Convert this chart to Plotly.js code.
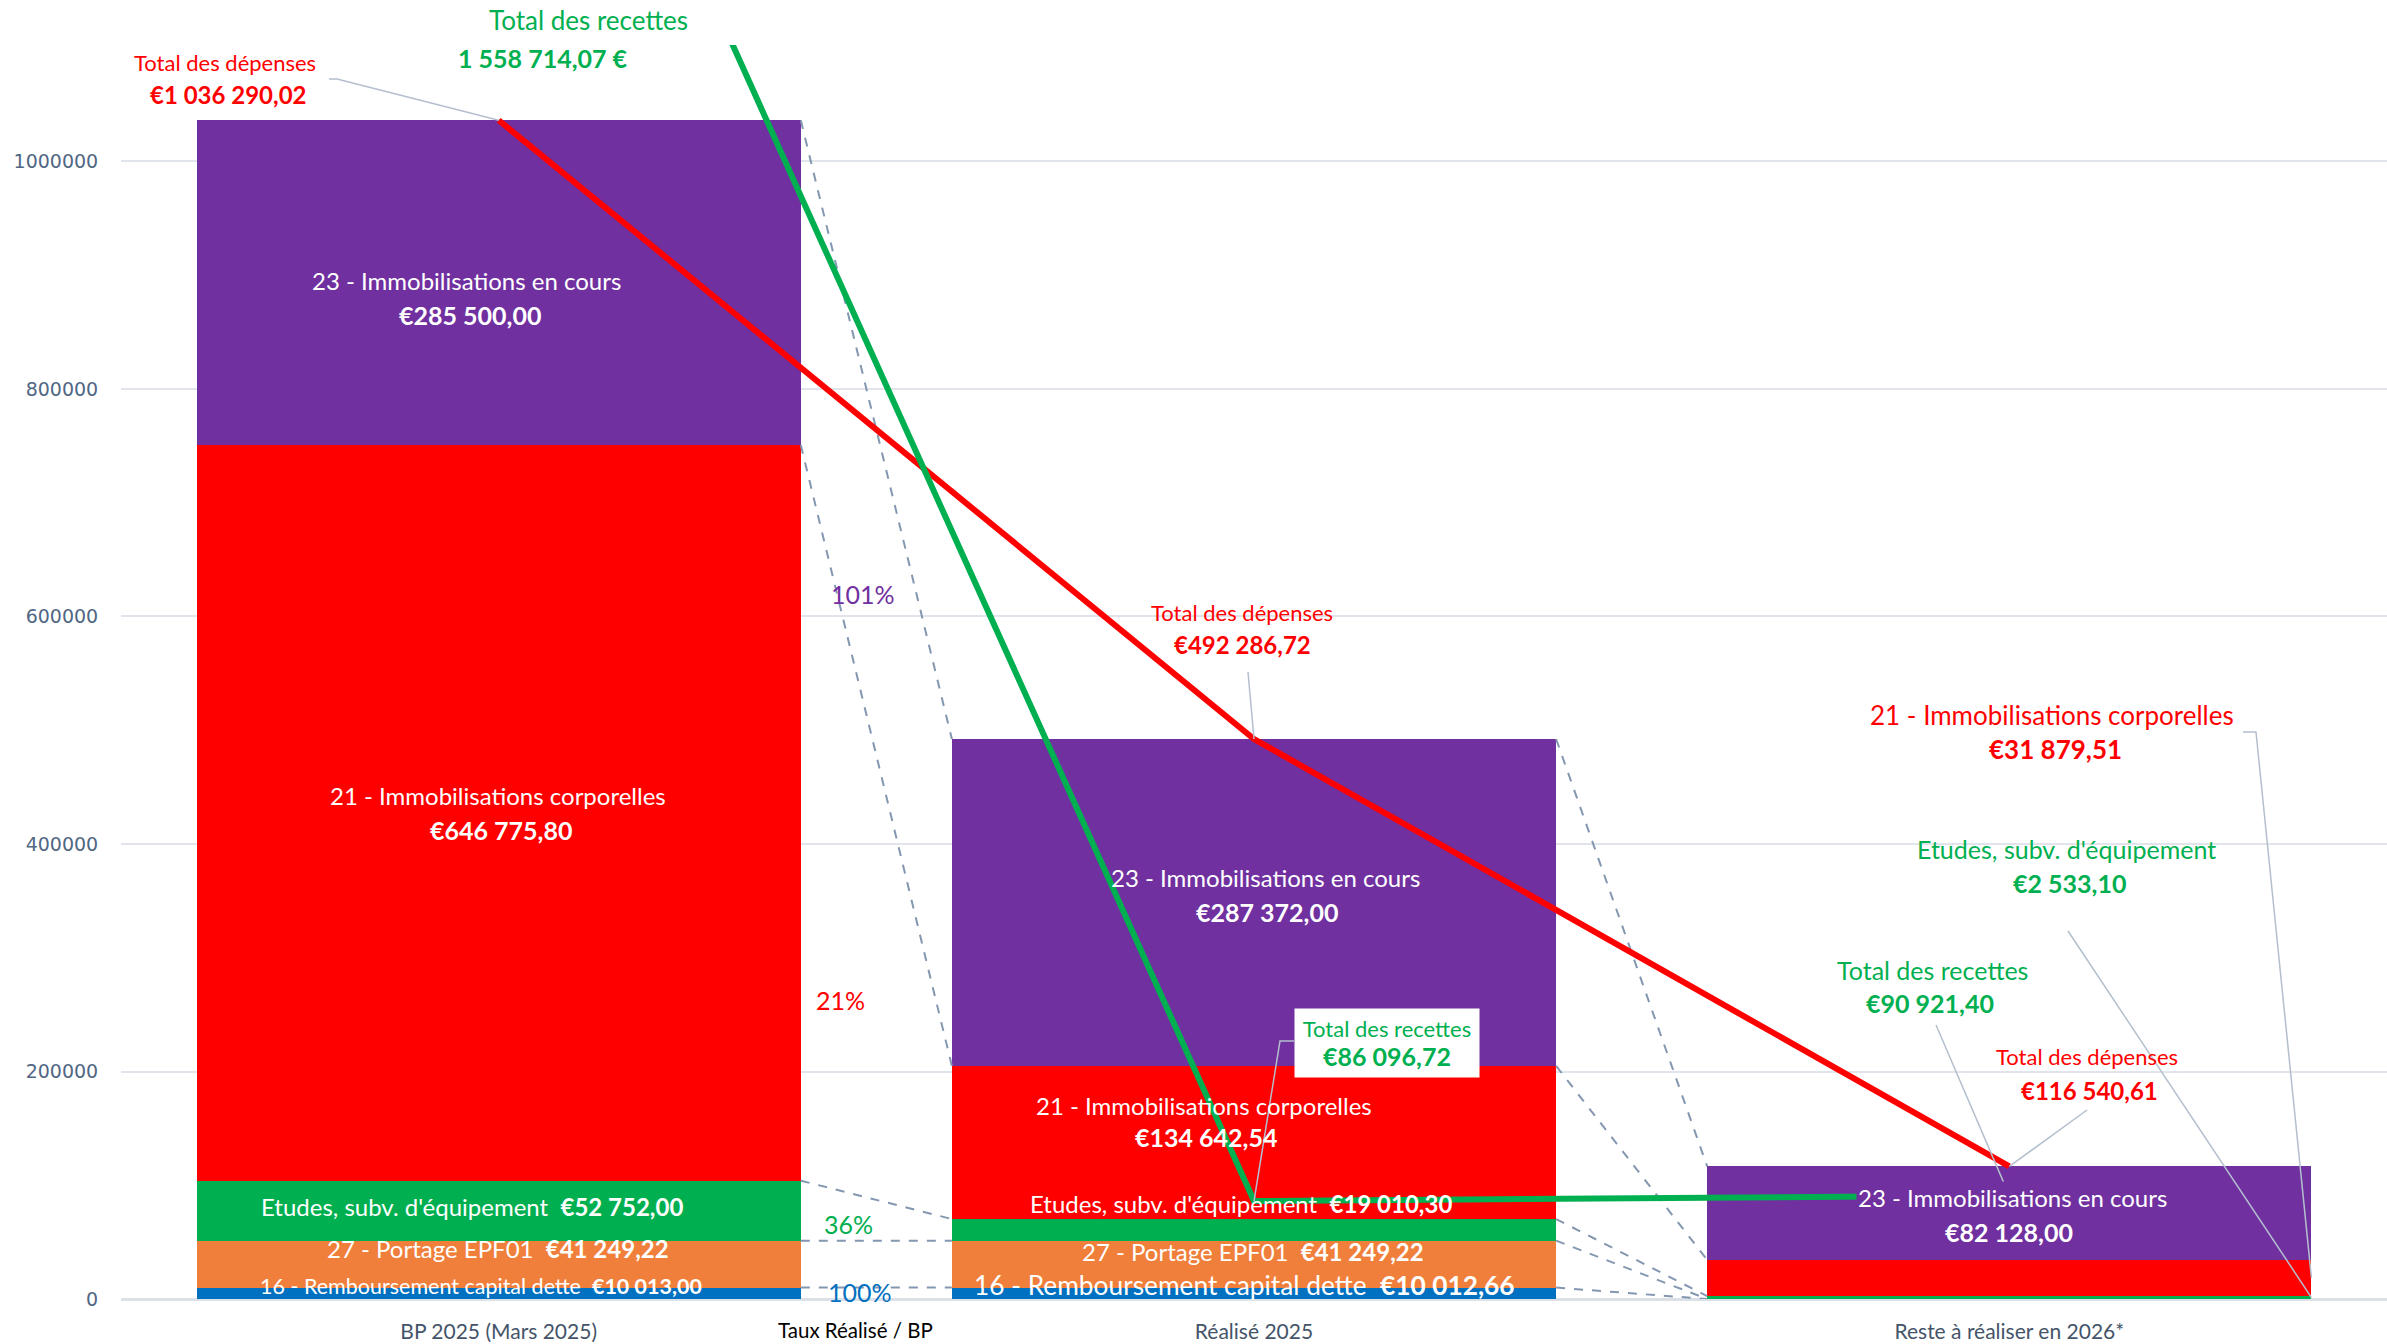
<!DOCTYPE html>
<html><head><meta charset="utf-8">
<script src="https://cdn.plot.ly/plotly-3.0.1.min.js"></script>
<style>html,body{margin:0;padding:0;background:#fff}#chart{width:2387px;height:1344px}</style>
</head><body><div id="chart"></div>
<script>
// ---------- DATA ----------
const categories = ["BP 2025 (Mars 2025)", "Réalisé 2025", "Reste à réaliser en 2026*"];
const seriesNames = ["16 - Remboursement capital dette", "27 - Portage EPF01", "Etudes, subv. d'équipement", "21 - Immobilisations corporelles", "23 - Immobilisations en cours"];
const rembCapital = [10013.00, 10012.66, 0];
const portageEPF = [41249.22, 41249.22, 0];
const etudesSubv = [52752.00, 19010.30, 2533.10];
const immoCorp = [646775.80, 134642.54, 31879.51];
const immoEnCours = [285500.00, 287372.00, 82128.00];
const totalDepenses = [1036290.02, 492286.72, 116540.61];
const totalRecettes = [1558714.07, 86096.72, 90921.40];
const yTicks = [0, 200000, 400000, 600000, 800000, 1000000];

// ---------- STYLE ----------
const seriesColors = ["#0070C0", "#F07F3C", "#00B050", "#FF0000", "#7030A0"];
const RED = "#FF0000", GREEN = "#00B050", PURPLE = "#7030A0", BLUE = "#0070C0";
const FONT = "Lato";
const W = 2387, H = 1344, ML = 121, MB = 45, MT = 45, YMAX = 1102400;
const PB = H - MB, PH = PB - MT, PW = W - ML;
const X = px => -0.5 + (px - ML) / PW * 3;
const Y = py => (PB - py) / PH * YMAX;
const YP = py => (PB - py) / PH;

function fmt(v){ const p = v.toFixed(2).split('.'); return p[0].replace(/\B(?=(\d{3})+(?!\d))/g,' ') + ',' + p[1]; }
const eur = v => '€' + fmt(v);

const series = [rembCapital, portageEPF, etudesSubv, immoCorp, immoEnCours];
const xs = categories.map((c,i)=>i);
const traces = [];

// stacked bars
series.forEach((s,k)=>{
  traces.push({type:'bar', x: xs, y: s, name: seriesNames[k], width: 0.8,
    marker:{color: seriesColors[k]}, hoverinfo:'skip'});
});

// cumulative tops for series lines
const cum = series.map((s,k)=> xs.map(i => series.slice(0,k+1).reduce((a,ss)=>a+ss[i],0)));
cum.forEach(c=>{
  for (let i=0;i<xs.length-1;i++){
    traces.push({type:'scatter', mode:'lines', x:[i+0.4, i+0.6], y:[c[i], c[i+1]],
      line:{color:'#8497B0', width:2, dash:'dash'}, hoverinfo:'skip'});
  }
});

// total lines
traces.push({type:'scatter', mode:'lines', x: xs, y: totalDepenses, name:'Total des dépenses', line:{color:RED, width:6}, hoverinfo:'skip'});
traces.push({type:'scatter', mode:'lines', x: xs, y: totalRecettes, name:'Total des recettes', line:{color:GREEN, width:6}, hoverinfo:'skip'});

// leader lines
const LEAD = {color:'#B4BFCE', width:1.5};
function leader(pts){ traces.push({type:'scatter', mode:'lines', x: pts.map(p=>p[0]), y: pts.map(p=>p[1]), line: LEAD, hoverinfo:'skip'}); }
leader([[X(329),Y(79)],[X(337),Y(79)],[0,totalDepenses[0]]]);
leader([[X(1248),Y(672)],[1,totalDepenses[1]]]);
leader([[X(1294),Y(1041)],[X(1280),Y(1041)],[1,totalRecettes[1]]]);
leader([[X(2243),Y(732)],[X(2256),Y(732)],[2.4, etudesSubv[2] + immoCorp[2]/2]]);
leader([[X(2068),Y(931)],[2.4, etudesSubv[2]/2]]);
leader([[X(1936),Y(1025)],[2,totalRecettes[2]]]);
leader([[X(2087),Y(1110)],[2,totalDepenses[2]]]);

// ---------- ANNOTATIONS ----------
const anns = [];
function ann(text, px, py, color, size, bold, extra){
  anns.push(Object.assign({xref:'x', yref:'paper', x: X(px), y: YP(py), text: text, showarrow:false,
    xanchor:'center', yanchor:'middle',
    font:{family:FONT, size:size, color:color, weight: bold ? 700 : 400}}, extra||{}));
}
const N = 24, B = 25;
// bar 1
ann(seriesNames[4], 466, 280, '#fff', N, false);
ann(eur(immoEnCours[0]), 470, 315, '#fff', B, true);
ann(seriesNames[3], 498, 796, '#fff', N, false);
ann(eur(immoCorp[0]), 501, 830, '#fff', B, true);
ann(seriesNames[2] + '  <b>' + eur(etudesSubv[0]) + '</b>', 472, 1206, '#fff', N, false);
ann(seriesNames[1] + '  <b>' + eur(portageEPF[0]) + '</b>', 498, 1248, '#fff', N, false);
ann(seriesNames[0] + '  <b>' + eur(rembCapital[0]) + '</b>', 481, 1286, '#fff', 21.5, false);
// bar 2
ann(seriesNames[4], 1265, 877, '#fff', N, false);
ann(eur(immoEnCours[1]), 1267, 912, '#fff', B, true);
ann(seriesNames[3], 1204, 1105, '#fff', N, false);
ann(eur(immoCorp[1]), 1206, 1137, '#fff', B, true);
ann(seriesNames[2] + '  <b>' + eur(etudesSubv[1]) + '</b>', 1241, 1203, '#fff', N, false);
ann(seriesNames[1] + '  <b>' + eur(portageEPF[1]) + '</b>', 1253, 1251, '#fff', N, false);
ann(seriesNames[0] + '  <b>' + eur(rembCapital[1]) + '</b>', 1244, 1285, '#fff', 26.3, false);
// bar 3
ann(seriesNames[4], 2012, 1197, '#fff', N, false, {bgcolor: PURPLE, borderpad: 1});
ann(eur(immoEnCours[2]), 2009, 1232, '#fff', B, true);
// totals
ann('Total des recettes', 588, 20, GREEN, 26, false);
ann(fmt(totalRecettes[0]) + ' €', 543, 58, GREEN, 25, true);
ann('Total des dépenses', 225, 62, RED, 22, false);
ann(eur(totalDepenses[0]), 228, 94, RED, 24, true);
ann('Total des dépenses', 1242, 612, RED, 22, false);
ann(eur(totalDepenses[1]), 1242, 644, RED, 24, true);
ann('Total des recettes<br><b style="font-size:25px">' + eur(totalRecettes[1]) + '</b>', 1387, 1043, GREEN, 22, false,
  {bgcolor:'#fff', borderpad: 6, width: 172});
// reste labels
ann(seriesNames[3], 2052, 715, RED, 26, false);
ann(eur(immoCorp[2]), 2055, 749, RED, 26, true);
ann(seriesNames[2], 2066, 849, GREEN, 25, false);
ann(eur(etudesSubv[2]), 2069, 883, GREEN, 25, true);
ann('Total des recettes', 1932, 970, GREEN, 25, false);
ann(eur(totalRecettes[2]), 1930, 1003, GREEN, 25, true);
ann('Total des dépenses', 2087, 1056, RED, 22, false);
ann(eur(totalDepenses[2]), 2089, 1090, RED, 24, true);
// rates
const rate = (k) => Math.round(series[k][1] / series[k][0] * 100) + '%';
ann(rate(4), 863, 594, PURPLE, 25, false);
ann(rate(3), 840, 1000, RED, 25, false);
ann(rate(2), 848, 1224, GREEN, 25, false);
ann(rate(0), 860, 1292, BLUE, 25, false);
ann('Taux Réalisé / BP', 855, 1330, '#000', 20.5, false, {borderpad: 0});

const layout = {
  width: W, height: H,
  margin: {l: ML, r: 0, t: MT, b: MB, pad: 0},
  paper_bgcolor: '#fff', plot_bgcolor: '#fff',
  barmode: 'stack', bargap: 0.2, showlegend: false,
  xaxis: {range: [-0.5, 2.5], tickvals: xs, ticktext: categories, showgrid: false, zeroline: false,
    showline: false, ticks: 'outside', ticklen: 14, tickcolor: 'rgba(0,0,0,0)',
    tickfont: {family: FONT, size: 21, color: '#44546A'}},
  yaxis: {range: [0, YMAX], tickvals: yTicks, ticktext: yTicks.map(String), showgrid: true,
    gridcolor: '#E1E5EB', gridwidth: 2, zeroline: true, zerolinecolor: '#DCE1E8', zerolinewidth: 3,
    showline: false, ticks: 'outside', ticklen: 18, tickcolor: 'rgba(0,0,0,0)',
    tickfont: {family: 'DejaVu Sans', size: 19, color: '#506784'}},
  annotations: anns,
  hovermode: false
};
Plotly.newPlot('chart', traces, layout, {displayModeBar: false, staticPlot: true});
</script>
</body></html>
